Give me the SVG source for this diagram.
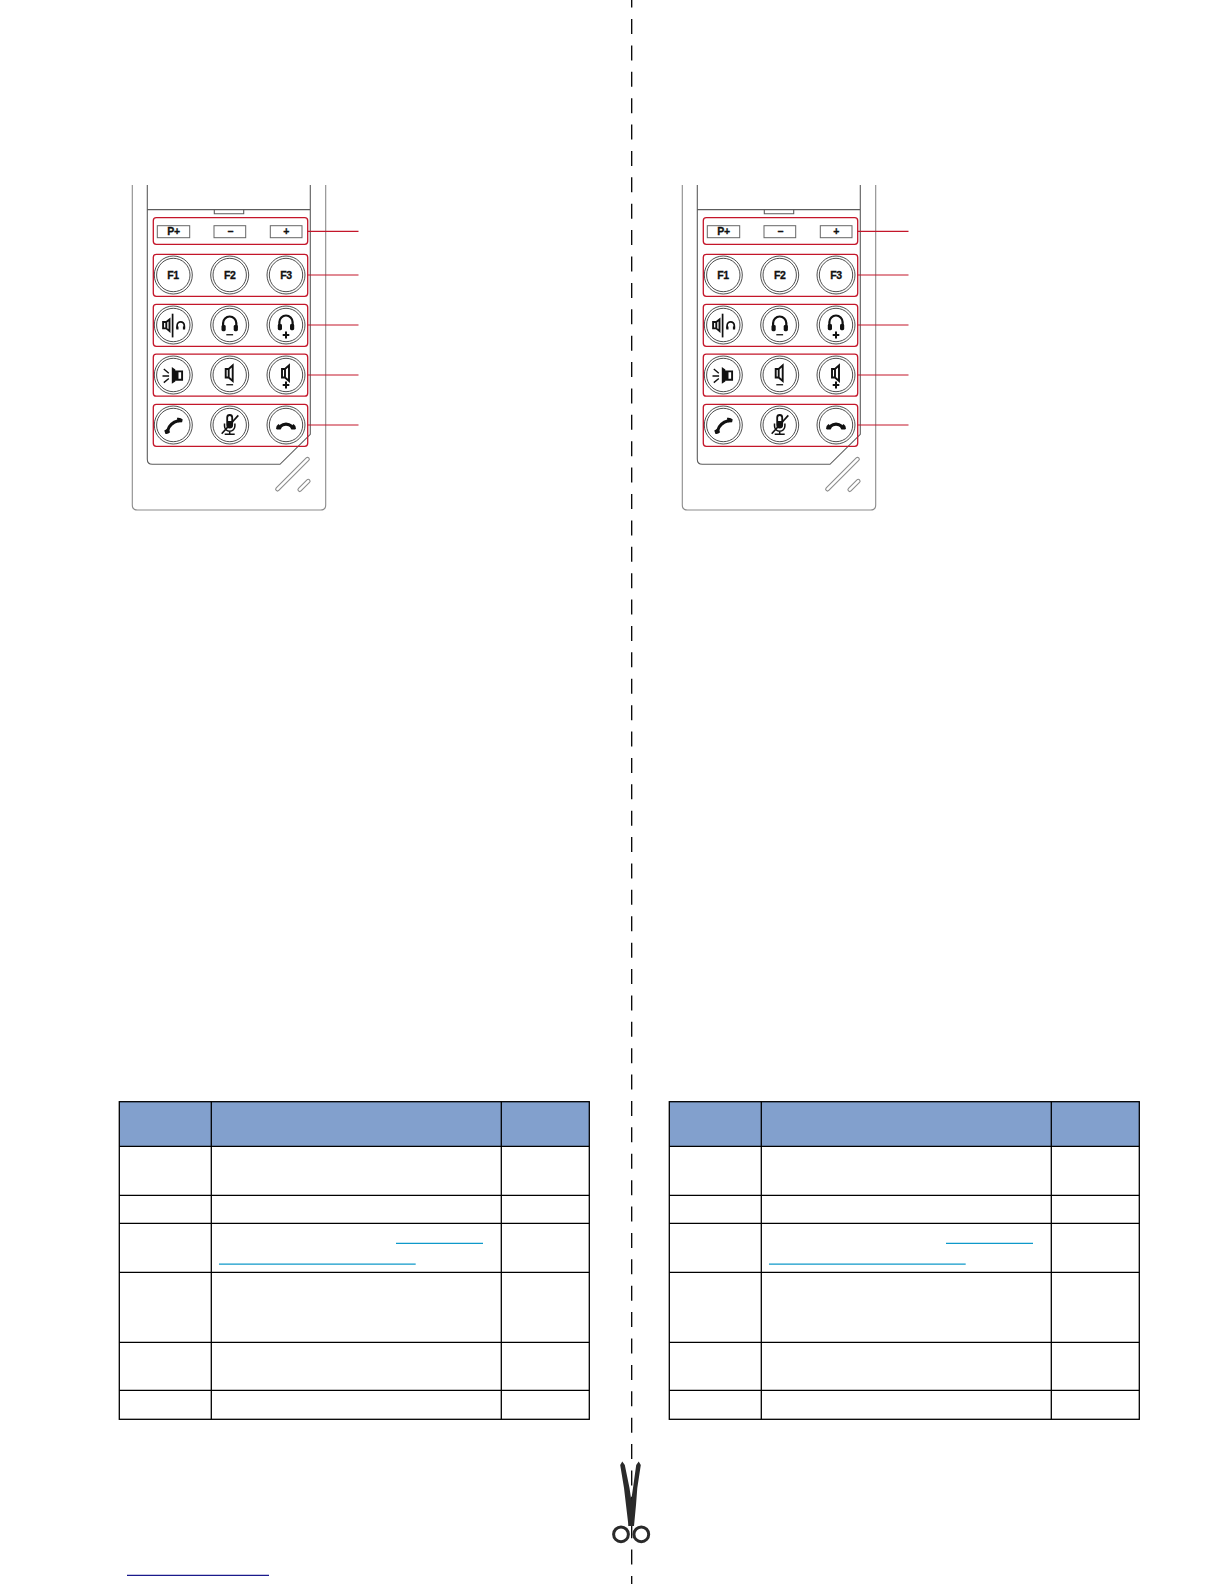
<svg xmlns="http://www.w3.org/2000/svg" width="1224" height="1584" viewBox="0 0 1224 1584">
<style>
.out{fill:none;stroke:#8c8c8c;stroke-width:1.1}
.in{fill:none;stroke:#5c5c5c;stroke-width:1.1}
.red{fill:none;stroke:#c4162a;stroke-width:1.3}
.lead{fill:none;stroke:#c4162a;stroke-width:1.2}
.key{fill:#fff;stroke:#666;stroke-width:1}
.ring{fill:none;stroke:#222;stroke-width:.8}
.k{fill:#111;stroke:none}
.s{fill:none;stroke:#111;stroke-linecap:butt}
.lbl{font-family:"Liberation Sans",Arial,sans-serif;font-weight:700;font-size:10.5px;letter-spacing:-.4px;fill:#111;stroke:#111;stroke-width:.3;text-anchor:middle}
.grid{fill:none;stroke:#000;stroke-width:1.3}
.link{stroke:#0f99c9;stroke-width:1.2;fill:none}
</style>
<defs>
<g id="ring"><circle class="ring" r="19"/><circle class="ring" r="16.7"/></g>
<g id="body">
<path class="out" d="M132.3 185V505Q132.3 510 137.3 510H320.7Q325.7 510 325.7 505V185"/>
<path class="in" d="M147.3 185V459.3Q147.3 464.3 152.3 464.3H280L310.3 434.3V185M147.3 209.6H310.3M214.3 209.6V213.8H243.7V209.6"/>
<rect class="out" x="-23" y="-1.8" width="46" height="3.6" rx="1.8" transform="translate(292.5 474.2) rotate(-45)"/>
<rect class="out" x="-7.8" y="-1.8" width="15.6" height="3.6" rx="1.8" transform="translate(304 485.4) rotate(-45)"/>
<rect class="red" x="153.3" y="217.7" width="154.4" height="26.6" rx="3"/>
<rect class="red" x="153.3" y="254.3" width="154.4" height="42" rx="3"/>
<rect class="red" x="153.3" y="304.3" width="154.4" height="42" rx="3"/>
<rect class="red" x="153.3" y="354.2" width="154.4" height="42" rx="3"/>
<rect class="red" x="153.3" y="404.3" width="154.4" height="42" rx="3"/>
<path class="lead" d="M307.7 231.3H358.5M307.7 275H358.5M307.7 325H358.5M307.7 375H358.5M307.7 425H358.5"/>
<rect class="key" x="157.3" y="225.7" width="32.4" height="12"/>
<rect class="key" x="214" y="225.7" width="31.7" height="12"/>
<rect class="key" x="270.3" y="225.7" width="31.7" height="12"/>
<use href="#ring" x="173.3" y="275"/><use href="#ring" x="229.7" y="275"/><use href="#ring" x="286" y="275"/>
<use href="#ring" x="173.3" y="325"/><use href="#ring" x="229.7" y="325"/><use href="#ring" x="286" y="325"/>
<use href="#ring" x="173.3" y="375"/><use href="#ring" x="229.7" y="375"/><use href="#ring" x="286" y="375"/>
<use href="#ring" x="173.3" y="425"/><use href="#ring" x="229.7" y="425"/><use href="#ring" x="286" y="425"/>
</g>
<g id="phones">
<path class="s" stroke-width="1.9" d="M-10.2 -3H-7V3.4H-10.2ZM-7 -3L-3.8 -5.6V6L-7 3.4Z"/>
<path class="s" stroke-width="1.7" d="M-.7 -11.3V12.4"/>
<path class="s" stroke-width="1.7" d="M3.8 3.5V.5A3.6 3.6 0 0 1 11 .5V3.5"/>
<path class="k" d="M3 1.5H5.2V4.4H3ZM9.6 1.5H11.8V4.4H9.6Z"/>
</g>
<g id="cans">
<path class="s" stroke-width="2.2" d="M-6.6 3V-1.9A6.6 6.6 0 0 1 6.6 -1.9V3"/>
<rect class="k" x="-8.2" y="0" width="4.2" height="6.2" rx="1.4"/>
<rect class="k" x="4" y="0" width="4.2" height="6.2" rx="1.4"/>
</g>
<path id="minus" class="k" d="M-3.4 9.1H3.4V10.4H-3.4Z"/>
<path id="plus" class="k" d="M-3.3 9H-1V6.6H1V9H3.3V11H1V13.4H-1V11H-3.3Z"/>
<g id="spk">
<path class="s" stroke-width="1.9" d="M-4 -6H-1V2.5H-4ZM-1 -6L3 -9.7V6L-1 2.5Z"/>
</g>
<g id="ringer">
<path class="s" stroke-width="1.4" d="M-10.8 1H-4.2M-9.5 -6L-4.5 -1.8M-9.5 7.6L-4.5 3.5"/>
<path class="k" d="M-1.5 -8L2 -5.4V6.4L-1.5 8.8Z"/>
<path class="s" stroke-width="1.9" d="M2 -3.6H8.8V4.8H2Z"/>
<path class="k" d="M2 -3.6H5.2V4.8H2Z"/>
</g>
<g id="pickup">
<path class="s" stroke-width="3" d="M-5.6 5.5Q-3.6 -2 5 -4.2"/>
<path class="k" d="M-9 5.4L-5 3.2L-3.2 7.2Q-5.6 9.6 -8 8.8ZM3.6 -7.2Q7.4 -7.9 9.4 -5.6L8.8 -2.8L4.6 -2.4Z"/>
</g>
<g id="mute">
<rect class="s" stroke-width="1.8" x="-2.5" y="-10" width="5" height="12.5" rx="2.5"/>
<path class="k" d="M-2.5 -4H2.5V2.5H-2.5Z"/>
<path class="s" stroke-width="1.5" d="M-5.2 -1.5V1A5.2 5.2 0 0 0 5.2 1V-1.5M0 6.2V9M-5 9.2H5"/>
<path class="s" stroke-width="1.6" d="M-8 8.8L8.6 -9.6"/>
</g>
<g id="hangup">
<path class="s" stroke-width="3.2" d="M-6 1.4Q0 -3.2 6 1.4"/>
<path class="k" d="M-10 3.8Q-10 .6 -7.5 -1L-4.2 2.4L-5.4 4.6H-9ZM10 3.8Q10 .6 7.5 -1L4.2 2.4L5.4 4.6H9Z"/>
</g>
<g id="table">
<rect x="119.3" y="1101.7" width="470" height="44.6" fill="#82a0cd"/>
<rect class="grid" x="119.3" y="1101.7" width="470" height="317.6"/>
<path class="grid" d="M211.3 1101.7V1419.3M501.3 1101.7V1419.3M119.3 1146.3H589.3M119.3 1195.3H589.3M119.3 1223.3H589.3M119.3 1272.3H589.3M119.3 1342.3H589.3M119.3 1390.3H589.3"/>
<path class="link" d="M396 1243.4H483M219 1264.2H415.7"/>
</g>
</defs>

<g id="cut-line"><path d="M631.7 -7.4V1584" fill="none" stroke="#000" stroke-width="1.3" stroke-dasharray="15 11.39"/></g>

<g id="scissors" fill="#2a2a2a">
<path d="M620.2 1465L622.3 1461.5L624.8 1465L629.5 1488L632 1505L634 1526H628.5L626 1505L624 1488Z"/>
<path d="M640.8 1465L638.7 1461.5L636.2 1465L633 1488L630.5 1505L628.5 1526H634L636 1505L637.3 1488Z"/>
<g fill="none" stroke="#2a2a2a" stroke-width="3"><circle cx="621" cy="1534.3" r="7.4"/><circle cx="641.3" cy="1534.3" r="7.4"/></g>
</g>

<g id="phone-left">
<use href="#body"/>
<g id="left-memory-keys">
<text class="lbl" x="173.5" y="235.3">P+</text><text class="lbl" x="230" y="235.3">−</text><text class="lbl" x="286.2" y="235.3">+</text>
</g>
<g id="left-function-keys">
<text class="lbl" x="173" y="279">F1</text><text class="lbl" x="229.7" y="279">F2</text><text class="lbl" x="286" y="279">F3</text>
</g>
<g id="left-headset-keys">
<use href="#phones" x="173.3" y="325"/>
<use href="#cans" x="229.7" y="325"/><use href="#minus" x="229.7" y="325"/>
<use href="#cans" x="286" y="324"/><use href="#plus" x="286" y="325"/>
</g>
<g id="left-speaker-keys">
<use href="#ringer" x="173.3" y="375"/>
<use href="#spk" x="229.7" y="375"/><use href="#minus" x="229.7" y="375"/>
<use href="#spk" x="286" y="375"/><use href="#plus" x="286" y="375"/>
</g>
<g id="left-call-keys">
<use href="#pickup" x="173.3" y="425"/><use href="#mute" x="229.7" y="425"/><use href="#hangup" x="286" y="425"/>
</g>
</g>

<g id="phone-right" transform="translate(550 0)">
<use href="#body"/>
<g id="right-memory-keys">
<text class="lbl" x="173.5" y="235.3">P+</text><text class="lbl" x="230" y="235.3">−</text><text class="lbl" x="286.2" y="235.3">+</text>
</g>
<g id="right-function-keys">
<text class="lbl" x="173" y="279">F1</text><text class="lbl" x="229.7" y="279">F2</text><text class="lbl" x="286" y="279">F3</text>
</g>
<g id="right-headset-keys">
<use href="#phones" x="173.3" y="325"/>
<use href="#cans" x="229.7" y="325"/><use href="#minus" x="229.7" y="325"/>
<use href="#cans" x="286" y="324"/><use href="#plus" x="286" y="325"/>
</g>
<g id="right-speaker-keys">
<use href="#ringer" x="173.3" y="375"/>
<use href="#spk" x="229.7" y="375"/><use href="#minus" x="229.7" y="375"/>
<use href="#spk" x="286" y="375"/><use href="#plus" x="286" y="375"/>
</g>
<g id="right-call-keys">
<use href="#pickup" x="173.3" y="425"/><use href="#mute" x="229.7" y="425"/><use href="#hangup" x="286" y="425"/>
</g>
</g>

<g id="table-left"><use href="#table"/></g>
<g id="table-right" transform="translate(550 0)"><use href="#table"/></g>
<path id="footer-link" d="M127 1575.4H269" stroke="#1a1a8c" stroke-width="1.2" fill="none"/>
</svg>
